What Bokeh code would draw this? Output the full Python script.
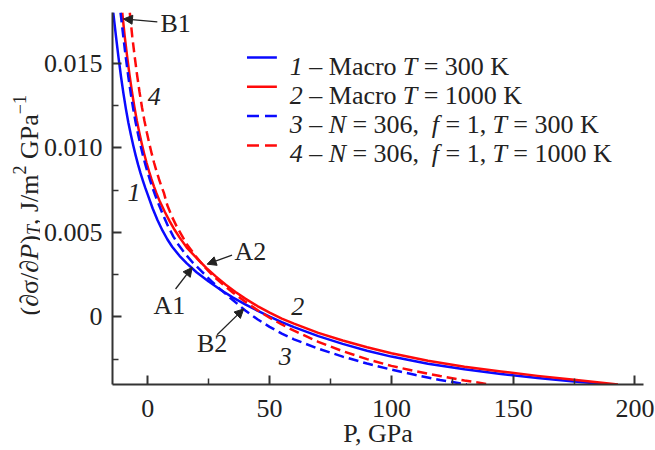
import numpy as np
from bokeh.plotting import figure
from bokeh.layouts import row
from bokeh.models import Range1d, FixedTicker, PrintfTickFormatter, Label, Arrow, NormalHead
from bokeh.embed import file_html
from bokeh.resources import INLINE

# ---------------- data ----------------
# 1 - Macro T = 300 K
p_macro_300 = [-14.2, -13, -12, -11, -10, -9, -8, -7, -6, -5, -4, -3, -2, -1, 0, 2, 4, 6, 8,
               10, 13, 16, 20, 25, 30, 35, 40, 45, 50, 55, 60, 70, 80, 90, 100, 115, 130,
               145, 160, 175, 190]
v_macro_300 = [0.0180, 0.0165, 0.0153, 0.0142, 0.0132, 0.0123, 0.0115, 0.0108, 0.01015,
               0.00955, 0.0090, 0.0085, 0.00804, 0.00761, 0.00721, 0.00641, 0.00571, 0.00511,
               0.00459, 0.00415, 0.00361, 0.00316, 0.00264, 0.00209, 0.00159, 0.00114,
               0.00074, 0.000365, 0.000015, -0.00031, -0.00061, -0.00114, -0.0016, -0.0020,
               -0.00235, -0.00277, -0.0031, -0.00338, -0.00362, -0.00382, -0.0040]
# 2 - Macro T = 1000 K
p_macro_1000 = [-10.5, -9.5, -8.5, -7.5, -6.5, -5.5, -4.5, -3.5, -2.5, -1.5, -0.5, 0.5, 1.5,
                2.5, 3.5, 5, 7, 9, 11, 13, 16, 20, 24, 28, 32, 36, 40, 45, 50, 55, 60, 70,
                80, 90, 100, 115, 130, 145, 160, 175, 193]
v_macro_1000 = [0.0180, 0.0166, 0.0154, 0.0143, 0.0133, 0.0124, 0.0116, 0.0109, 0.01025,
                0.00965, 0.0091, 0.0086, 0.00814, 0.00772, 0.00733, 0.0068, 0.0062, 0.00565,
                0.00515, 0.0047, 0.0041, 0.00348, 0.0029, 0.00238, 0.0019, 0.00147, 0.00108,
                0.00064, 0.00025, -0.0001, -0.0004, -0.00095, -0.0014, -0.0018, -0.00215,
                -0.0026, -0.00295, -0.00323, -0.00349, -0.00372, -0.0040]
# 3 - N = 306, f = 1, T = 300 K
p_n306_300 = [-11.2, -10, -9, -8, -7, -6, -5, -4, -3, -2, -1, 0, 1, 2, 3, 4.5, 6.5, 8.5,
              10.5, 12.5, 15.5, 18.5, 22, 26, 30, 35, 40, 45, 50, 55, 60, 70, 80, 90, 100,
              110, 120, 131]
v_n306_300 = [0.0180, 0.0165, 0.0153, 0.0142, 0.0132, 0.0123, 0.0115, 0.0108, 0.01015,
              0.00955, 0.0090, 0.0085, 0.00804, 0.0076, 0.0072, 0.00665, 0.00595, 0.0053,
              0.00475, 0.00428, 0.0037, 0.0032, 0.0027, 0.00213, 0.0016, 0.00098, 0.00038,
              -0.00014, -0.00059, -0.00099, -0.00133, -0.00188, -0.00235, -0.00276,
              -0.00312, -0.00344, -0.00373, -0.0040]
# 4 - N = 306, f = 1, T = 1000 K
p_n306_1000 = [-7.4, -6.4, -5.4, -4.4, -3.4, -2.4, -1.4, -0.4, 0.6, 1.6, 2.6, 3.6, 4.6, 5.6,
               6.6, 8, 10, 12, 14, 16, 19.6, 23, 27, 31, 35, 40, 45, 50, 55, 60, 70, 80, 90,
               100, 110, 120, 130, 140.5]
v_n306_1000 = [0.0180, 0.0166, 0.0154, 0.0143, 0.0133, 0.0124, 0.0116, 0.0109, 0.01025,
               0.00965, 0.0091, 0.0086, 0.00814, 0.00772, 0.00733, 0.0066, 0.0059, 0.0053,
               0.0048, 0.0043, 0.0036, 0.0030, 0.0024, 0.0019, 0.00143, 0.0009, 0.0004,
               -0.00005, -0.00045, -0.00082, -0.00148, -0.00203, -0.0025, -0.0029,
               -0.00322, -0.0035, -0.00376, -0.0040]

x_ticks = [0, 50, 100, 150, 200]
x_minor = [25, 75, 125, 175]
y_ticks = [0, 0.005, 0.010, 0.015]
y_minor = [-0.0025, 0.0025, 0.0075, 0.0125]

BLUE = "#0a0aff"
RED = "#ff0a0a"
INK = "#222222"
FONT = "Liberation Serif"
FS = 26

# ---------------- page layout (pixels from the page's top-left) ----------------
W, H = 655, 450
LW = 40                              # strip on the left holding the y title
FL, FR, FT, FB = 110, 643, 12, 386   # plot frame on the page
X0, X1 = -14.5, 203.5
Y0, Y1 = -0.004, 0.018


def dx(px):
    return X0 + (px - FL) / (FR - FL) * (X1 - X0)


def dy(py):
    return Y0 + (FB - py) / (FB - FT) * (Y1 - Y0)


p = figure(width=W - LW, height=H, output_backend="svg", toolbar_location=None,
           title=None, x_range=Range1d(X0, X1), y_range=Range1d(Y0, Y1),
           min_border_left=FL - LW, min_border_right=W - FR, min_border_top=FT,
           min_border_bottom=H - FB)
p.outline_line_color = None
p.grid.visible = False
p.background_fill_color = "white"
p.border_fill_color = "white"

for ax in (p.xaxis[0], p.yaxis[0]):
    ax.axis_line_color = "#333333"
    ax.axis_line_width = 2
    ax.major_tick_line_color = "#333333"
    ax.major_tick_line_width = 2
    ax.minor_tick_line_color = "#333333"
    ax.minor_tick_line_width = 1.5
    ax.major_tick_in = 9
    ax.major_tick_out = 0
    ax.minor_tick_in = 6
    ax.minor_tick_out = 0
    ax.major_label_text_font = FONT
    ax.major_label_text_font_size = f"{FS}px"
    ax.major_label_text_color = INK

p.xaxis.ticker = FixedTicker(ticks=x_ticks, minor_ticks=x_minor)
p.yaxis.ticker = FixedTicker(ticks=y_ticks, minor_ticks=y_minor)
p.yaxis.formatter = PrintfTickFormatter(format="%.3f")
p.yaxis.major_label_overrides = {0: "0"}
p.xaxis.major_label_standoff = 15
p.yaxis.major_label_standoff = 10

# x title as the axis' own label (kept inside the bottom panel)
p.xaxis.axis_label = "P, GPa"
p.xaxis.axis_label_text_font = FONT
p.xaxis.axis_label_text_font_size = f"{FS}px"
p.xaxis.axis_label_text_font_style = "normal"
p.xaxis.axis_label_text_color = INK
p.xaxis.axis_label_standoff = -1

# curves
p.line(p_macro_300, v_macro_300, line_color=BLUE, line_width=2.5, line_join="round")
p.line(p_macro_1000, v_macro_1000, line_color=RED, line_width=2.5, line_join="round")
p.line(p_n306_300, v_n306_300, line_color=BLUE, line_width=2.5, line_dash="10 5")
p.line(p_n306_1000, v_n306_1000, line_color=RED, line_width=2.5, line_dash="10 5")

# left strip for the y title
ya = figure(width=LW, height=H, output_backend="svg", toolbar_location=None, title=None,
            x_range=Range1d(0, LW), y_range=Range1d(0, H),
            x_axis_location=None, y_axis_location=None,
            min_border_left=0, min_border_right=0, min_border_top=0, min_border_bottom=0)
ya.outline_line_color = None
ya.grid.visible = False
ya.background_fill_color = "white"
ya.border_fill_color = "white"

# ---------------- text helpers ----------------
REG = {' ': 250, '–': 500, 'M': 889, 'a': 444, 'c': 444, 'r': 333, 'o': 500, '=': 564,
       'K': 722, ',': 250, 'G': 722, 'P': 556, 'J': 389, '/': 278, 'm': 778, '(': 333,
       ')': 333, '∂': 494, 'σ': 549, '−': 564}
ITA = {'T': 556, 'N': 667, 'f': 278, 'P': 611}


def tw(s, italic, size):
    table = ITA if italic else REG
    return sum(table.get(c, 500) for c in s) / 1000.0 * size


def label(fig, px, py, text, italic=False, size=FS, align="left", baseline="alphabetic",
          angle=0.0):
    common = dict(text=text, text_font=FONT, text_font_size=f"{size}px",
                  text_font_style="italic" if italic else "normal", text_color=INK,
                  text_align=align, text_baseline=baseline, angle=angle)
    if fig is p:
        lab = Label(x=dx(px), y=dy(py), **common)
    else:
        lab = Label(x=px, y=py, x_units="canvas", y_units="canvas", **common)
    fig.add_layout(lab)


def run(fig, px, py, pieces):
    cur = px
    for text, italic in pieces:
        lead = len(text) - len(text.lstrip(' '))
        if text.strip():
            label(fig, cur + tw(' ' * lead, italic, FS), py, text.strip(), italic)
        cur += tw(text, italic, FS)


# ---------------- legend ----------------
leg_rows = [
    ([("1", True), (" – Macro ", False), ("T", True), (" = 300 K", False)], BLUE, None),
    ([("2", True), (" – Macro ", False), ("T", True), (" = 1000 K", False)], RED, None),
    ([("3", True), (" – ", False), ("N", True), (" = 306,  ", False), ("f", True),
      (" = 1, ", False), ("T", True), (" = 300 K", False)], BLUE, "12 6"),
    ([("4", True), (" – ", False), ("N", True), (" = 306,  ", False), ("f", True),
      (" = 1, ", False), ("T", True), (" = 1000 K", False)], RED, "12 6"),
]
row_y = [57.3, 86.7, 116.0, 145.7]
for (pieces, color, dash), ly in zip(leg_rows, row_y):
    kw = dict(line_dash=dash) if dash else {}
    p.add_layout(Arrow(start=None, end=None, x_start=dx(245), y_start=dy(ly), x_end=dx(275),
                       y_end=dy(ly), line_color=color, line_width=2.5, **kw))
    run(p, 288, ly + 8.5, pieces)

# ---------------- curve numbers ----------------
label(p, 131.7, 193.3, "1", italic=True, align="center", baseline="middle")
label(p, 296.0, 307.5, "2", italic=True, align="center", baseline="middle")
label(p, 283.3, 357.5, "3", italic=True, align="center", baseline="middle")
label(p, 152.0, 96.7, "4", italic=True, align="center", baseline="middle")

# ---------------- point annotations ----------------
label(p, 173.3, 23.3, "B1", align="center", baseline="middle")
label(p, 248.3, 252.5, "A2", align="center", baseline="middle")
label(p, 167.0, 306.7, "A1", align="center", baseline="middle")
label(p, 210.0, 345.0, "B2", align="center", baseline="middle")

arrows = [((155, 21.5), (121, 18.5)), ((230, 256), (205, 265)),
          ((173.3, 290), (190, 268.3)), ((215, 336), (241.7, 310))]
for (x0, y0), (x1, y1) in arrows:
    p.add_layout(Arrow(x_start=dx(x0), y_start=dy(y0), x_end=dx(x1), y_end=dy(y1),
                       line_color=INK, line_width=1.3,
                       end=NormalHead(size=9, fill_color=INK, line_color=INK, line_width=1)))

# ---------------- y title: "(∂σ/∂P)_T, J/m^2 GPa^-1", rotated, in the left strip ----------------
BX = 28.5
cur = 315.0
SUB = 18
ypieces = [("(∂σ/∂", False, FS, 0), ("P", True, FS, 0), (")", False, FS, 0),
           ("T", True, SUB, 5), (", J/m", False, FS, 0), ("2", False, SUB, -10),
           (" GPa", False, FS, 0), ("−1", False, SUB, -10)]
for text, italic, size, shift in ypieces:
    lead = len(text) - len(text.lstrip(' '))
    if text.strip():
        label(ya, BX + shift, cur - tw(' ' * lead, italic, size), text.strip(), italic,
              size=size, angle=np.pi / 2)
    cur -= tw(text, italic, size)

layout = row(ya, p, spacing=0)
open("out.html", "w").write(file_html(layout, INLINE))
